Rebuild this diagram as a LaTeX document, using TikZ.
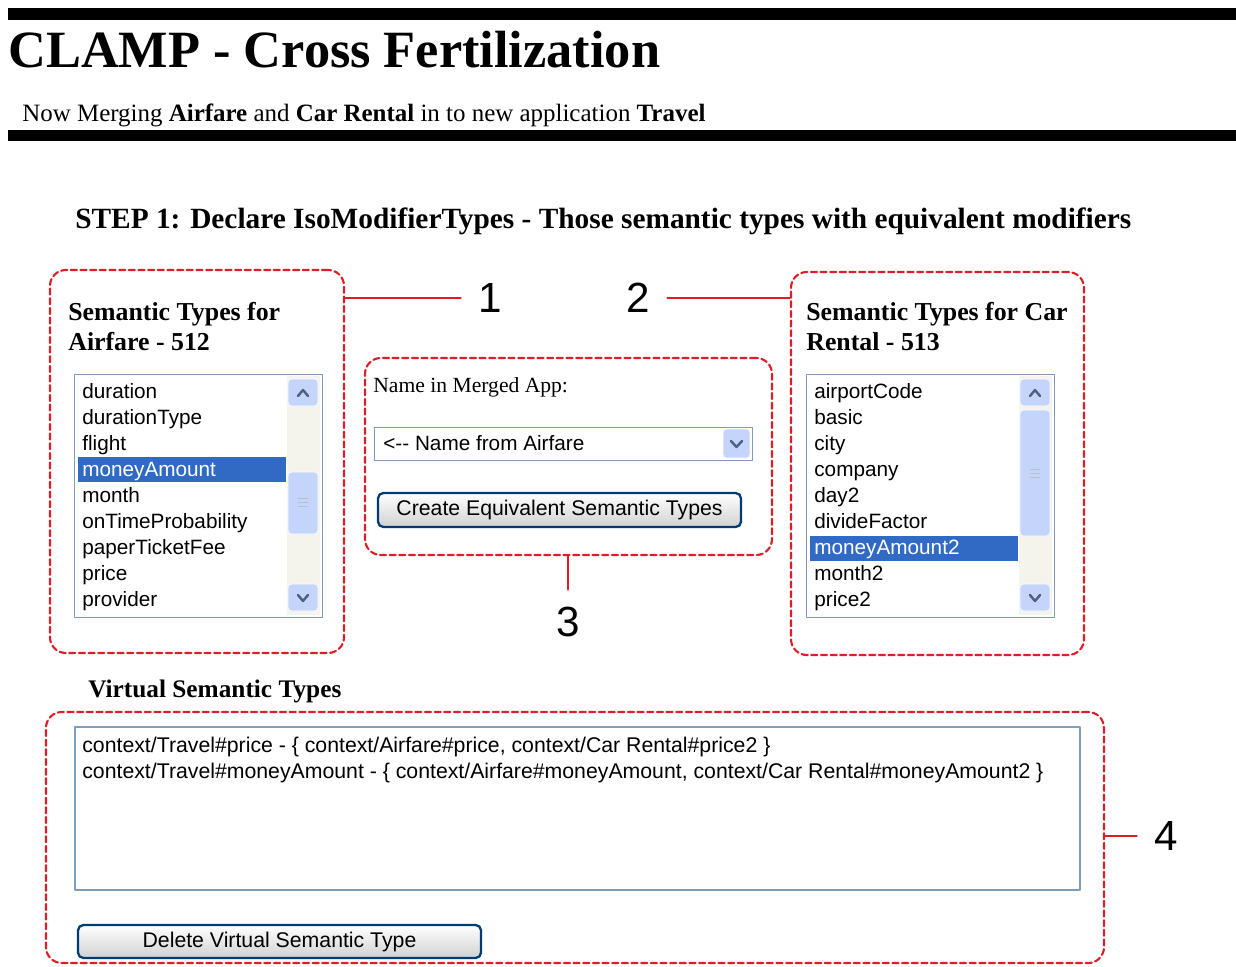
\documentclass[tikz,border=0pt]{standalone}
\usepackage{fontspec}
\setmainfont{Liberation Serif}
\newfontfamily\uifont{Liberation Sans}
\usetikzlibrary{fit,calc}

\definecolor{markred}{RGB}{220,30,40}
\definecolor{selblue}{RGB}{49,106,197}
\definecolor{barblue}{RGB}{196,212,250}
\definecolor{arrowblue}{RGB}{77,97,133}
\definecolor{frameblue}{RGB}{127,157,185}
\definecolor{btnblue}{RGB}{0,60,116}
\definecolor{trackgray}{RGB}{244,243,236}

\tikzset{
	redbox/.style={draw=markred,line width=1.2pt,dash pattern=on 3.5pt off 2pt,rounded corners=9pt,inner sep=0pt},
	callout/.style={draw=markred,line width=1.2pt},
	numlabel/.style={font=\uifont\fontsize{24}{24}\selectfont,inner sep=0pt,outer sep=10pt},
	item/.style={font=\uifont\fontsize{11.8}{11.8}\selectfont,anchor=base west,inner sep=0pt},
	heading/.style={font=\bfseries\fontsize{14.7}{14.7}\selectfont,anchor=base west,inner sep=0pt},
	button/.style={draw=btnblue,line width=1.3pt,rounded corners=3pt,top color=white,bottom color=black!18,font=\uifont\fontsize{12.1}{12.1}\selectfont,inner sep=0pt},
	sbtn/.style={fill=barblue,draw=white,rounded corners=2pt},
	chev/.style={draw=arrowblue,line width=1.4pt}
}

\begin{document}
\begin{tikzpicture}[line cap=round,line join=round,x=0.02cm,y=-0.02cm]
	\useasboundingbox (0,0) rectangle (1236,966);
	% header
	\fill (8,8) rectangle (1236,20);
	\fill (8,130) rectangle (1236,141);
	\node[anchor=base west,inner sep=0pt,font=\bfseries\fontsize{29.8}{29.8}\selectfont] (title) at (8,68) {CLAMP - Cross Fertilization};
	\node[anchor=base west,inner sep=0pt,font=\fontsize{14.2}{14.2}\selectfont] (merge) at (22,122) {Now Merging \textbf{Airfare} and \textbf{Car Rental} in to new application \textbf{Travel}};
	\node[anchor=base west,inner sep=0pt,font=\bfseries\fontsize{16.7}{16.7}\selectfont] (step) at (75,228) {STEP 1: Declare IsoModifierTypes - Those semantic types with equivalent modifiers};
	% airfare list
	\node[heading] (airhead) at (68,320) {Semantic Types for};
	\node[heading] (airhead2) at (68,350) {Airfare - 512};
	\draw[frameblue,fill=white] (74,374) rectangle (322,617);
	\fill[selblue] (78,457) rectangle (286,482);
	\foreach \name/\col [count=\i] in {duration/black,durationType/black,flight/black,moneyAmount/white,month/black,onTimeProbability/black,paperTicketFee/black,price/black,provider/black}
		\node[item,text=\col] (air\i) at (82,372+26.1*\i) {\name};
	\fill[trackgray] (287,376) rectangle (320,615);
	\draw[sbtn] (288,379) rectangle (318,406);
	\draw[chev] (298,396) -- (303,390) -- (308,396);
	\draw[sbtn] (288,472) rectangle (318,534);
	\foreach \gy in {498,502,506}
		\draw[white!60!arrowblue,line width=0.4pt] (298,\gy) -- (308,\gy);
	\draw[sbtn] (288,584) rectangle (318,611);
	\draw[chev] (298,595) -- (303,601) -- (308,595);
	\node[redbox,fit={(50,270) (344,653)}] (airbox) {};
	% car rental list
	\node[heading] (carhead) at (806,320) {Semantic Types for Car};
	\node[heading] (carhead2) at (806,350) {Rental - 513};
	\draw[frameblue,fill=white] (806,374) rectangle (1054,617);
	\fill[selblue] (810,536) rectangle (1018,561);
	\foreach \name/\col [count=\i] in {airportCode/black,basic/black,city/black,company/black,day2/black,divideFactor/black,moneyAmount2/white,month2/black,price2/black}
		\node[item,text=\col] (car\i) at (814,372+26.1*\i) {\name};
	\fill[trackgray] (1019,376) rectangle (1052,615);
	\draw[sbtn] (1020,379) rectangle (1050,406);
	\draw[chev] (1030,396) -- (1035,390) -- (1040,396);
	\draw[sbtn] (1020,410) rectangle (1050,536);
	\foreach \gy in {469,473,477}
		\draw[white!60!arrowblue,line width=0.4pt] (1030,\gy) -- (1040,\gy);
	\draw[sbtn] (1020,584) rectangle (1050,611);
	\draw[chev] (1030,595) -- (1035,601) -- (1040,595);
	\node[redbox,fit={(791,272) (1084,655)}] (carbox) {};
	% merged name
	\node[anchor=base west,inner sep=0pt,font=\fontsize{12.3}{12.3}\selectfont] (namelbl) at (373,392) {Name in Merged App:};
	\draw[frameblue,fill=white] (374,427) rectangle (752,460);
	\draw[sbtn] (723,429) rectangle (750,458);
	\draw[chev] (731,441) -- (736.5,447) -- (742,441);
	\node[item] (namesel) at (383,450) {<-- Name from Airfare};
	\node[button,minimum width=7.26cm,minimum height=0.68cm] (create) at (559.5,510) {Create Equivalent Semantic Types};
	\node[redbox,fit={(365,358) (772,555)}] (midbox) {};
	% virtual types
	\node[anchor=base west,inner sep=0pt,font=\bfseries\fontsize{14.4}{14.4}\selectfont] (virthead) at (88,697) {Virtual Semantic Types};
	\draw[frameblue,fill=white,line width=0.8pt] (75,727) rectangle (1080,890);
	\node[item,font=\uifont\fontsize{12.1}{12.1}\selectfont] (virt1) at (82,752) {context/Travel\#price - \{ context/Airfare\#price, context/Car Rental\#price2 \}};
	\node[item,font=\uifont\fontsize{12.1}{12.1}\selectfont] (virt2) at (82,778) {context/Travel\#moneyAmount - \{ context/Airfare\#moneyAmount, context/Car Rental\#moneyAmount2 \}};
	\node[button,minimum width=8.06cm,minimum height=0.66cm] (delete) at (279.5,941.5) {Delete Virtual Semantic Type};
	\node[redbox,fit={(46,712) (1104,963)}] (virtbox) {};
	% callouts
	\node[numlabel] (one) at (490,298) {1};
	\node[numlabel] (two) at (638,298) {2};
	\node[numlabel] (three) at (568,622) {3};
	\node[numlabel] (four) at (1166,836) {4};
	\draw[callout] (airbox.east |- one) -- (one.west);
	\draw[callout] (carbox.west |- two) -- (two.east);
	\draw[callout] (midbox.south -| three) -- (three.north);
	\draw[callout] (virtbox.east |- four) -- (four.west);
\end{tikzpicture}
\end{document}
